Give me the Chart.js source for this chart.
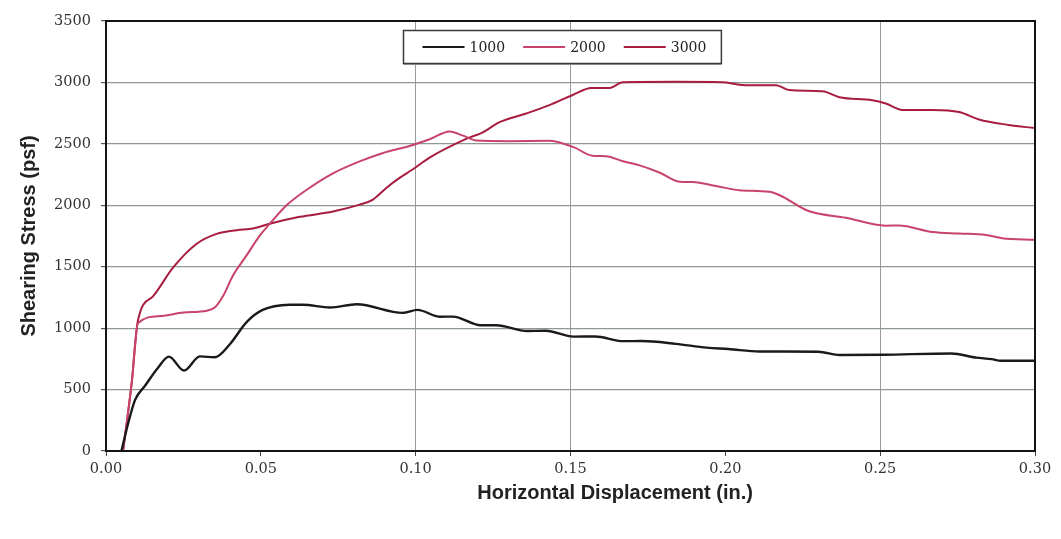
<!DOCTYPE html>
<html>
<head>
<meta charset="utf-8">
<script src="https://cdn.jsdelivr.net/npm/chart.js@4"></script>
<style>
  html, body { margin: 0; padding: 0; background: #fff; }
  canvas { display: block; }
</style>
</head>
<body>
<canvas id="c" width="1061" height="539"></canvas>
<script>
// ---- data ----
const seriesLabels = ['1000', '2000', '3000'];
const seriesColors = ['#1a1a1a', '#c8446a', '#a81c40'];

const x1000 = [0.005, 0.0072, 0.0094, 0.0126, 0.0168, 0.0203, 0.0252, 0.0303, 0.0352, 0.040, 0.0454, 0.0506, 0.0594, 0.0636, 0.0723, 0.081, 0.0958, 0.1006, 0.1077, 0.112, 0.121, 0.126, 0.136, 0.142, 0.151, 0.158, 0.167, 0.173, 0.184, 0.194, 0.201, 0.211, 0.230, 0.237, 0.251, 0.273, 0.281, 0.286, 0.289, 0.300];
const y1000 = [0, 230, 416, 531, 678, 768, 655, 770, 763, 869, 1049, 1148, 1190, 1191, 1168, 1194, 1124, 1149, 1093, 1094, 1023, 1024, 977, 979, 931, 932, 894, 895, 872, 841, 830, 810, 808, 782, 784, 794, 760, 748, 735, 735];

const x2000 = [0.0055, 0.0083, 0.0103, 0.0174, 0.025, 0.0325, 0.0352, 0.0379, 0.041, 0.0454, 0.0497, 0.0529, 0.0583, 0.0647, 0.0733, 0.0819, 0.0895, 0.098, 0.1045, 0.111, 0.1153, 0.1196, 0.130, 0.143, 0.151, 0.157, 0.1615, 0.1669, 0.1723, 0.1787, 0.1852, 0.1895, 0.197, 0.2045, 0.2142, 0.2174, 0.2271, 0.2389, 0.2518, 0.256, 0.2669, 0.2755, 0.2841, 0.2894, 0.300];
const y2000 = [0, 554, 1040, 1098, 1127, 1142, 1170, 1265, 1428, 1592, 1755, 1850, 2000, 2124, 2260, 2357, 2426, 2482, 2537, 2601, 2567, 2527, 2522, 2525, 2473, 2404, 2400, 2359, 2325, 2267, 2192, 2189, 2157, 2123, 2111, 2084, 1951, 1899, 1834, 1835, 1782, 1770, 1759, 1732, 1720];

const x3000 = [0.0055, 0.0083, 0.0103, 0.0153, 0.0217, 0.0292, 0.0357, 0.0422, 0.0475, 0.0529, 0.0626, 0.0733, 0.0819, 0.0862, 0.0905, 0.0948, 0.0991, 0.1045, 0.1163, 0.1217, 0.1271, 0.1357, 0.1432, 0.1507, 0.1567, 0.1626, 0.1669, 0.1841, 0.1991, 0.2045, 0.2088, 0.2164, 0.2206, 0.2314, 0.2368, 0.2475, 0.2518, 0.2572, 0.2669, 0.2755, 0.2819, 0.2915, 0.300];
const y3000 = [0, 554, 1060, 1262, 1494, 1685, 1767, 1797, 1811, 1850, 1906, 1949, 2005, 2046, 2141, 2223, 2293, 2388, 2540, 2594, 2677, 2747, 2815, 2898, 2954, 2955, 3002, 3005, 3002, 2982, 2977, 2978, 2938, 2928, 2880, 2855, 2828, 2775, 2776, 2759, 2698, 2654, 2628];

const xTicks = [0, 0.05, 0.10, 0.15, 0.20, 0.25, 0.30];
const yTicks = [0, 500, 1000, 1500, 2000, 2500, 3000, 3500];
const xTitle = 'Horizontal Displacement (in.)';
const yTitle = 'Shearing Stress (psf)';
const visibleXGrid = [0.10, 0.15, 0.25];

function pts(xs, ys) { return xs.map((x, i) => ({ x: x, y: ys[i] })); }

const serif = '"DejaVu Serif", "Liberation Serif", serif';
const sans = '"Liberation Sans", Arial, sans-serif';

const decorPlugin = {
  id: 'decor',
  afterDraw(chart) {
    const ctx = chart.ctx, a = chart.chartArea;
    ctx.save();
    // frame
    ctx.strokeStyle = '#141414';
    ctx.lineWidth = 2;
    ctx.strokeRect(a.left, a.top, a.right - a.left, a.bottom - a.top);
    // x title
    ctx.fillStyle = '#222';
    ctx.font = 'bold 20px ' + sans;
    ctx.textAlign = 'center';
    ctx.textBaseline = 'middle';
    ctx.fillText(xTitle, a.left + (a.right - a.left) * 0.548, 493);
    // legend
    ctx.font = '14px ' + serif;
    const lineLen = 42, gapTxt = 5, gapItem = 18, padL = 19, padR = 15;
    const widths = chart.data.datasets.map(d => ctx.measureText(d.label).width);
    let total = padL + padR;
    widths.forEach((w, i) => { total += lineLen + gapTxt + w + (i < widths.length - 1 ? gapItem : 0); });
    const cx = a.left + (a.right - a.left) * 0.4903;
    const bx = Math.round(cx - total / 2) + 0.5;
    const by = a.top + 9.5, bh = 33;
    ctx.fillStyle = '#fff';
    ctx.fillRect(bx, by, total, bh);
    ctx.strokeStyle = '#3a3a3a';
    ctx.lineWidth = 1.5;
    ctx.strokeRect(bx, by, total, bh);
    ctx.beginPath();
    ctx.moveTo(bx, by + bh + 1);
    ctx.lineTo(bx + total, by + bh + 1);
    ctx.strokeStyle = '#888';
    ctx.lineWidth = 1;
    ctx.stroke();
    let x = bx + padL;
    const cy = by + bh / 2;
    chart.data.datasets.forEach((d, i) => {
      ctx.beginPath();
      ctx.moveTo(x, cy);
      ctx.lineTo(x + lineLen, cy);
      ctx.strokeStyle = d.borderColor;
      ctx.lineWidth = 2;
      ctx.stroke();
      ctx.fillStyle = '#222';
      ctx.textAlign = 'left';
      ctx.textBaseline = 'middle';
      ctx.fillText(d.label, x + lineLen + gapTxt, cy + 1);
      x += lineLen + gapTxt + widths[i] + gapItem;
    });
    ctx.restore();
  }
};

new Chart(document.getElementById('c'), {
  type: 'line',
  data: {
    datasets: [
      { label: seriesLabels[0], data: pts(x1000, y1000), borderColor: seriesColors[0], borderWidth: 2.4 },
      { label: seriesLabels[1], data: pts(x2000, y2000), borderColor: seriesColors[1], borderWidth: 2 },
      { label: seriesLabels[2], data: pts(x3000, y3000), borderColor: seriesColors[2], borderWidth: 2 }
    ]
  },
  options: {
    responsive: false,
    devicePixelRatio: 1,
    animation: false,
    layout: { padding: { top: 21, right: 26, left: 0, bottom: 0 } },
    elements: {
      point: { radius: 0 },
      line: { cubicInterpolationMode: 'monotone', fill: false }
    },
    plugins: { legend: { display: false }, tooltip: { enabled: false } },
    scales: {
      x: {
        type: 'linear',
        min: 0, max: 0.3,
        afterFit(s) { s.height = 88; },
        afterBuildTicks(s) { s.ticks = xTicks.map(v => ({ value: v })); },
        ticks: {
          autoSkip: false, maxRotation: 0, padding: 5,
          font: { family: serif, size: 14.5 }, color: '#333',
          callback: v => Number(v).toFixed(2)
        },
        grid: {
          color: c => (c.tick && visibleXGrid.some(g => Math.abs(g - c.tick.value) < 1e-6)) ? '#9a9a9a' : 'rgba(0,0,0,0)',
          lineWidth: 1,
          tickLength: 5,
          tickColor: '#444'
        },
        border: { display: false }
      },
      y: {
        type: 'linear',
        min: 0, max: 3500,
        afterFit(s) { s.width = 106; },
        afterBuildTicks(s) { s.ticks = yTicks.map(v => ({ value: v })); },
        ticks: {
          padding: 10,
          font: { family: serif, size: 14.5 }, color: '#333',
          callback: v => String(v)
        },
        grid: { color: '#8e9894', lineWidth: 1.2, tickLength: 5, tickColor: '#555' },
        border: { display: false },
        title: {
          display: true, text: yTitle, color: '#222',
          font: { family: sans, size: 20, weight: 'bold' },
          padding: { top: 17, bottom: 0 }
        }
      }
    }
  },
  plugins: [decorPlugin]
});
</script>
</body>
</html>
